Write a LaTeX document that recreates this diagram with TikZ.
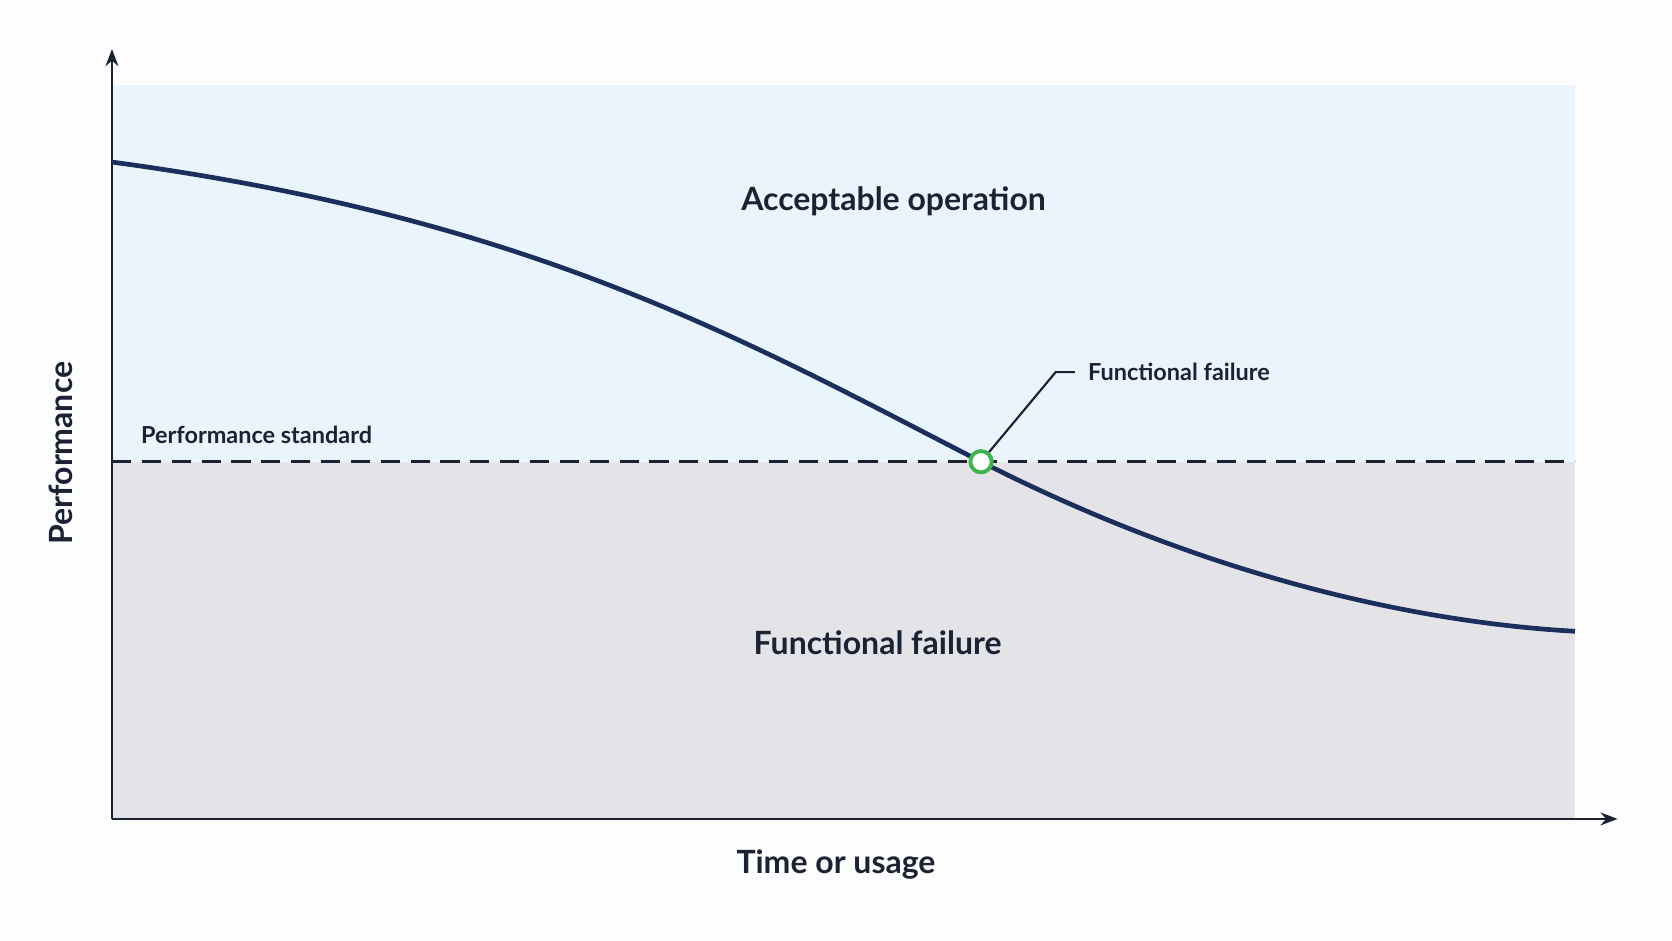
\documentclass[tikz,border=0pt]{standalone}
\usepackage{fontspec}
\setmainfont{Lato}
\usetikzlibrary{arrows.meta,calc}
\definecolor{ink}{HTML}{1A2233}
\definecolor{curve}{HTML}{1C2E5C}
\definecolor{okbg}{HTML}{EAF4FC}
\definecolor{failbg}{HTML}{E3E3E8}
\definecolor{mark}{HTML}{3CB54A}
\begin{document}
\begin{tikzpicture}[x=0.5pt,y=-0.5pt,
  lbl/.style={text=ink,font=\fontsize{11}{13}\selectfont\bfseries},
  big/.style={text=ink,font=\fontsize{15}{18}\selectfont\bfseries},
  axis/.style={draw=ink,line width=1.3pt,-{Stealth[length=8pt,width=6pt]}}]
\useasboundingbox[fill=white!97!blue!20] (0,0) rectangle (1568,882);
\fill[okbg] (105,80) rectangle (1477,433);
\fill[failbg] (105,433) rectangle (1477,768);
\coordinate (o) at (105,768);
\coordinate (ytop) at (105,46);
\coordinate (xend) at (1517,768);
\draw[axis] (o) -- (ytop);
\draw[axis] (o) -- (xend);
\coordinate (ds) at (105,433);
\coordinate (de) at (1477,433);
\draw[ink,line width=1.3pt,dash pattern=on 9pt off 5pt] (ds) -- (de);
\coordinate (c0) at (105,152);
\coordinate (c2) at (1477,592);
\draw[curve,line width=2.2pt] (c0) .. controls (500,205) and (700,320) .. (920,433) .. controls (1150,550) and (1350,585) .. (c2);
\node[circle,draw=mark,fill=white,line width=1.8pt,minimum size=10pt,inner sep=0pt] (fp) at (920,433) {};
\coordinate (bend) at (990,349);
\node[lbl,anchor=west,inner sep=0pt] (fl) at (1020,349) {Functional failure};
\draw[ink,line width=1pt] (fp) -- (bend) -- ($(fl.west)+(-12,0)$);
\node[lbl,anchor=west,inner sep=0pt] (ps) at (132,408) {Performance standard};
\node[big] (ao) at (838,189) {Acceptable operation};
\node[big] (ff) at (823,603) {Functional failure};
\node[big] (tu) at (784,811) {Time or usage};
\node[big,rotate=90] (pf) at (57,425) {Performance};
\end{tikzpicture}
\end{document}
